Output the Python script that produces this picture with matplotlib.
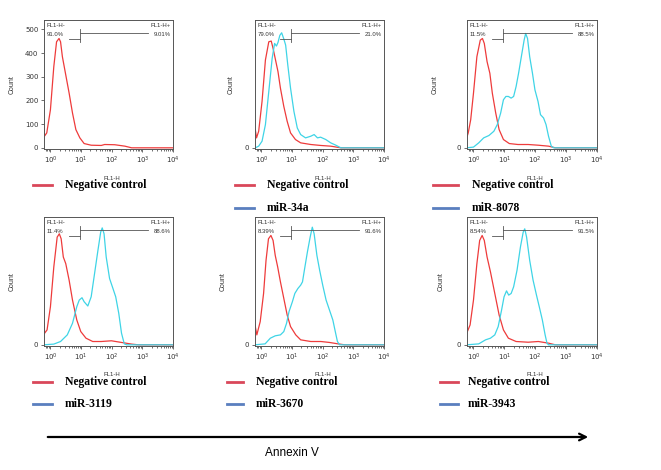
import numpy as np
import matplotlib
matplotlib.use("Agg")
import matplotlib.pyplot as plt
from matplotlib.ticker import LogLocator, NullFormatter, FixedLocator

# negative control (red) and miRNA (cyan) histograms, x in log10(FL1-H), y in counts
red1_x = [-0.21, -0.19, -0.12, 0.0, 0.11, 0.20, 0.28, 0.33, 0.39, 0.44, 0.53, 0.61, 0.72, 0.83, 0.96, 1.10, 1.33, 1.66, 1.77, 2.10, 2.43, 2.65, 4.0]
red1_y = [84, 50, 63, 161, 343, 448, 462, 448, 385, 350, 287, 231, 147, 77, 42, 18, 11, 10, 14, 13, 7, 0, 0]

red2_x = [-0.20, -0.16, -0.09, 0.02, 0.13, 0.24, 0.32, 0.38, 0.46, 0.54, 0.62, 0.73, 0.84, 0.95, 1.11, 1.28, 1.61, 1.93, 2.26, 2.59, 4.0]
red2_y = [77, 42, 70, 196, 371, 448, 451, 420, 371, 322, 252, 175, 112, 63, 35, 21, 14, 10, 7, 0, 0]
cyan2_x = [-0.20, -0.09, 0.02, 0.13, 0.24, 0.35, 0.43, 0.49, 0.54, 0.60, 0.66, 0.73, 0.79, 0.86, 0.95, 1.06, 1.17, 1.28, 1.44, 1.61, 1.72, 1.83, 1.93, 2.10, 2.26, 2.43, 2.59, 4.0]
cyan2_y = [0, 7, 28, 98, 238, 378, 441, 430, 445, 475, 486, 460, 434, 350, 252, 154, 84, 56, 42, 49, 56, 42, 45, 35, 21, 11, 0, 0]

red3_x = [-0.22, -0.17, -0.09, 0.0, 0.11, 0.22, 0.29, 0.35, 0.44, 0.53, 0.61, 0.72, 0.83, 0.97, 1.16, 1.44, 1.77, 2.10, 2.43, 2.65, 4.0]
red3_y = [42, 63, 119, 231, 385, 455, 462, 441, 364, 315, 231, 147, 77, 35, 18, 14, 14, 11, 7, 0, 0]
cyan3_x = [-0.22, 0.0, 0.17, 0.33, 0.50, 0.66, 0.77, 0.88, 0.97, 1.05, 1.13, 1.22, 1.30, 1.38, 1.46, 1.55, 1.64, 1.69, 1.75, 1.82, 1.91, 1.99, 2.09, 2.17, 2.27, 2.35, 2.43, 2.52, 2.60, 4.0]
cyan3_y = [0, 3, 21, 42, 52, 70, 98, 147, 203, 217, 217, 210, 217, 259, 315, 385, 455, 483, 462, 385, 315, 245, 196, 140, 126, 98, 49, 7, 0, 0]

red4_x = [-0.21, -0.19, -0.11, 0.0, 0.11, 0.22, 0.29, 0.35, 0.42, 0.50, 0.61, 0.72, 0.86, 0.99, 1.16, 1.38, 1.66, 1.99, 2.32, 2.65, 2.87, 4.0]
red4_y = [91, 49, 63, 161, 329, 455, 469, 448, 371, 343, 273, 189, 105, 56, 28, 14, 14, 17, 10, 3, 0, 0]
cyan4_x = [-0.21, 0.11, 0.33, 0.55, 0.72, 0.86, 0.94, 1.03, 1.10, 1.22, 1.33, 1.44, 1.55, 1.64, 1.69, 1.75, 1.82, 1.93, 2.04, 2.13, 2.23, 2.32, 2.41, 2.49, 4.0]
cyan4_y = [0, 3, 14, 42, 91, 161, 189, 199, 182, 164, 203, 301, 399, 476, 494, 469, 371, 280, 238, 203, 133, 49, 4, 0, 0]

red5_x = [-0.21, -0.15, -0.04, 0.07, 0.15, 0.23, 0.31, 0.38, 0.45, 0.53, 0.62, 0.73, 0.84, 0.95, 1.12, 1.28, 1.61, 1.94, 2.22, 2.50, 2.72, 4.0]
red5_y = [84, 42, 98, 217, 357, 448, 462, 441, 378, 329, 266, 196, 126, 77, 42, 21, 14, 14, 10, 4, 0, 0]
cyan5_x = [-0.21, 0.12, 0.29, 0.45, 0.62, 0.73, 0.82, 0.90, 1.01, 1.09, 1.19, 1.28, 1.34, 1.41, 1.50, 1.59, 1.66, 1.72, 1.81, 1.90, 2.00, 2.11, 2.22, 2.33, 2.41, 2.48, 2.55, 4.0]
cyan5_y = [0, 4, 28, 38, 42, 56, 91, 140, 182, 217, 238, 252, 266, 322, 392, 455, 497, 469, 378, 315, 252, 189, 147, 105, 56, 14, 0, 0]

red6_x = [-0.22, -0.11, 0.0, 0.11, 0.20, 0.28, 0.35, 0.44, 0.55, 0.69, 0.83, 0.97, 1.13, 1.38, 1.77, 2.10, 2.43, 2.65, 4.0]
red6_y = [49, 84, 189, 343, 441, 462, 441, 371, 308, 217, 126, 63, 28, 14, 11, 14, 7, 0, 0]
cyan6_x = [-0.22, 0.17, 0.39, 0.55, 0.69, 0.80, 0.91, 0.99, 1.07, 1.14, 1.22, 1.30, 1.41, 1.52, 1.61, 1.66, 1.72, 1.82, 1.93, 2.04, 2.13, 2.23, 2.32, 2.38, 2.43, 4.0]
cyan6_y = [0, 4, 21, 28, 42, 77, 147, 203, 228, 210, 217, 245, 315, 413, 476, 490, 455, 357, 273, 210, 161, 105, 42, 7, 0, 0]

neg_pct = ["91.0%", "79.0%", "11.5%", "11.4%", "8.39%", "8.54%"]
pos_pct = ["9.01%", "21.0%", "88.5%", "88.6%", "91.6%", "91.5%"]
mir_names = [None, "miR-34a", "miR-8078", "miR-3119", "miR-3670", "miR-3943"]

reds = [(red1_x, red1_y), (red2_x, red2_y), (red3_x, red3_y),
        (red4_x, red4_y), (red5_x, red5_y), (red6_x, red6_y)]
cyans = [None, (cyan2_x, cyan2_y), (cyan3_x, cyan3_y),
         (cyan4_x, cyan4_y), (cyan5_x, cyan5_y), (cyan6_x, cyan6_y)]

RED = "#ee3b3b"
CYAN = "#3fd4e6"
W, H = 661, 470

fig = plt.figure(figsize=(W / 100, H / 100), dpi=100)
fig.patch.set_facecolor("white")

def px(x0, y0, x1, y1):
    return [x0 / W, 1 - y1 / H, (x1 - x0) / W, (y1 - y0) / H]

cols = [(44, 173), (255, 384), (467, 597)]
rows = [(20, 149), (217, 346)]
count_x = [-0.22, -0.16, -0.22, -0.22, -0.22, -0.17]
sans = "Liberation Sans"
serif = "Liberation Serif"

for i in range(6):
    r, c = divmod(i, 3)
    x0, x1 = cols[c]
    y0, y1 = rows[r]
    ax = fig.add_axes(px(x0, y0, x1, y1))
    rx, ry = reds[i]
    ax.plot(10 ** np.array(rx), ry, color=RED, lw=0.9)
    if cyans[i] is not None:
        cx, cy = cyans[i]
        ax.plot(10 ** np.array(cx), cy, color=CYAN, lw=0.9)
    ax.set_xscale("log")
    ax.set_xlim(10 ** -0.21, 10 ** 4)
    ax.set_ylim(-5, 540)
    ax.xaxis.set_major_locator(FixedLocator([1, 10, 100, 1000, 10000]))
    ax.xaxis.set_minor_locator(LogLocator(base=10, subs=np.arange(2, 10)))
    ax.xaxis.set_minor_formatter(NullFormatter())
    ax.set_xticklabels([r"$10^0$", r"$10^1$", r"$10^2$", r"$10^3$", r"$10^4$"])
    if i == 0:
        ax.set_yticks([0, 100, 200, 300, 400, 500])
    else:
        ax.set_yticks([0])
    ax.tick_params(axis="both", labelsize=5, length=2.5, width=0.5, pad=1.5, colors="#333333")
    ax.tick_params(axis="x", which="minor", length=1.5, width=0.4)
    for s in ax.spines.values():
        s.set_linewidth(0.7)
        s.set_color("#555555")
    ax.set_ylabel("Count", fontsize=5, family=sans, color="#333333")
    ax.yaxis.set_label_coords(count_x[i], 0.5)

    # gate bars
    g = 10 ** 0.95
    ax.plot([g, 10 ** 3.2], [486, 486], color="#555555", lw=0.6)
    ax.plot([10 ** 0.6, g], [461, 461], color="#555555", lw=0.6)
    ax.plot([g, g], [448, 500], color="#555555", lw=0.6)
    ax.text(0.02, 0.975, "FL1-H-", transform=ax.transAxes, fontsize=4.3, family=sans, va="top", color="#333333")
    ax.text(0.02, 0.905, neg_pct[i], transform=ax.transAxes, fontsize=4.3, family=sans, va="top", color="#333333")
    ax.text(0.98, 0.975, "FL1-H+", transform=ax.transAxes, fontsize=4.3, family=sans, va="top", ha="right", color="#333333")
    ax.text(0.98, 0.905, pos_pct[i], transform=ax.transAxes, fontsize=4.3, family=sans, va="top", ha="right", color="#333333")

    # FL1-H axis label (partly under the legend text)
    fig.text((x0 + x1) / 2 / W + 0.005, 1 - (y1 + 29) / H, "FL1-H", fontsize=4.3, family=sans,
             ha="center", va="center", color="#333333")

# legend rows under each panel
leg_line = [(33, 52), (235, 254), (433, 458), (33, 52), (227, 243), (440, 458)]
leg_text = [65, 267, 472, 65, 256, 468]
leg_y = [(185, 208), (382, 404)]
for i in range(6):
    r, c = divmod(i, 3)
    la, lb = leg_line[i]
    ya, yb = leg_y[r]
    fig.add_artist(plt.Line2D([la / W, lb / W], [1 - ya / H] * 2, color="#d9475a", lw=2.0))
    fig.text(leg_text[i] / W, 1 - ya / H, "Negative control", fontsize=8.4, family=serif,
             fontweight="bold", va="center")
    if mir_names[i] is not None:
        fig.add_artist(plt.Line2D([la / W, lb / W], [1 - yb / H] * 2, color="#5a7fbf", lw=2.0))
        fig.text(leg_text[i] / W, 1 - yb / H, mir_names[i], fontsize=8.4, family=serif,
                 fontweight="bold", va="center")

# Annexin V arrow
fig.add_artist(matplotlib.patches.FancyArrowPatch((45 / W, 1 - 437 / H), (591 / W, 1 - 437 / H),
                                                  transform=fig.transFigure, arrowstyle="->",
                                                  mutation_scale=12, lw=1.6, color="black"))
fig.text(265 / W, 1 - 453 / H, "Annexin V", fontsize=8.5, family=sans, va="center")

fig.savefig("out.png", dpi=100)
